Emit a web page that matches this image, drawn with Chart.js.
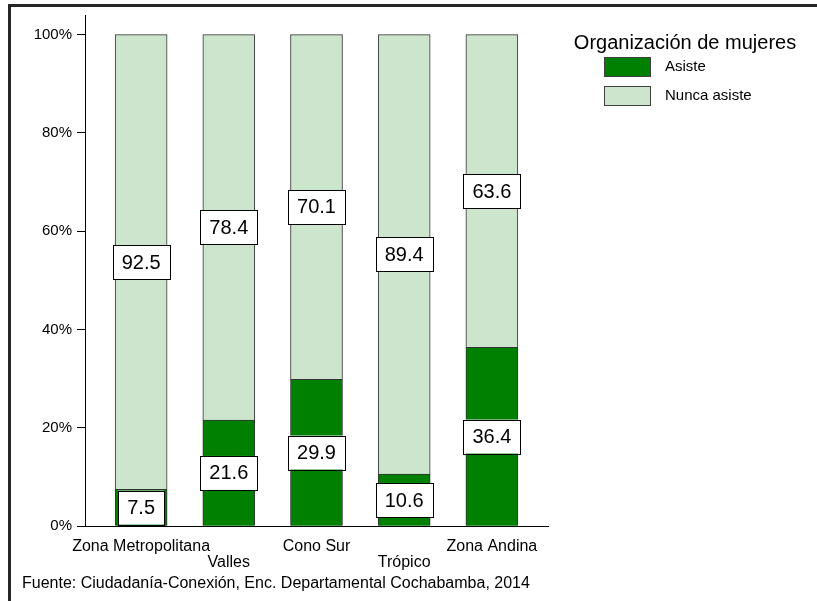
<!DOCTYPE html>
<html>
<head>
<meta charset="utf-8">
<script src="https://cdn.jsdelivr.net/npm/chart.js@4"></script>
<style>
  body { margin: 0; background: #fff; }
  #wrap { position: relative; width: 817px; height: 601px; }
  #frame { position: absolute; left: 8px; top: 4px; right: 0; bottom: 0;
           border-top: 3px solid #262626; border-left: 3px solid #262626; pointer-events: none; }
</style>
</head>
<body>
<div id="wrap">
  <canvas id="barChart" width="817" height="601"></canvas>
  <div id="frame"></div>
</div>
<script>
const categories = ['Zona Metropolitana', 'Valles', 'Cono Sur', 'Trópico', 'Zona Andina'];
const asiste = [7.5, 21.6, 29.9, 10.6, 36.4];
const nuncaAsiste = [92.5, 78.4, 70.1, 89.4, 63.6];
const seriesNames = ['Asiste', 'Nunca asiste'];
const yTicks = [0, 20, 40, 60, 80, 100];
const legendTitle = 'Organización de mujeres';
const source = 'Fuente: Ciudadanía-Conexión, Enc. Departamental Cochabamba, 2014';

Chart.defaults.font.family = '"Liberation Sans", Arial, sans-serif';
Chart.defaults.color = '#000';

// white boxes with the value in the middle of each segment
const boxLabels = {
    id: 'boxLabels',
    afterDatasetsDraw(chart) {
        const ctx = chart.ctx;
        ctx.save();
        ctx.font = '20px "Liberation Sans", Arial, sans-serif';
        ctx.textAlign = 'center';
        ctx.textBaseline = 'middle';
        chart.data.datasets.forEach((ds, di) => {
            chart.getDatasetMeta(di).data.forEach((bar, i) => {
                const txt = ds.data[i].y.toFixed(1);
                const w = ctx.measureText(txt).width + 18;
                const h = 34;
                const cy = (bar.y + bar.base) / 2;
                ctx.fillStyle = '#fff';
                ctx.fillRect(bar.x - w / 2, cy - h / 2, w, h);
                ctx.strokeStyle = '#000';
                ctx.lineWidth = 1;
                ctx.strokeRect(Math.round(bar.x - w / 2) + 0.5, Math.round(cy - h / 2) + 0.5, Math.round(w), h);
                ctx.fillStyle = '#000';
                ctx.fillText(txt, bar.x, cy + 1);
            });
        });
        ctx.restore();
    }
};

// legend on the right, with title above the swatches
const sideLegend = {
    id: 'sideLegend',
    afterDraw(chart) {
        const ctx = chart.ctx;
        const left = chart.chartArea.right;
        ctx.save();
        ctx.fillStyle = '#000';
        ctx.textBaseline = 'middle';
        ctx.textAlign = 'center';
        ctx.font = '20px "Liberation Sans", Arial, sans-serif';
        ctx.fillText(legendTitle, left + 137, 43);
        ctx.textAlign = 'left';
        ctx.font = '15px "Liberation Sans", Arial, sans-serif';
        chart.data.datasets.forEach((ds, i) => {
            const y = 57 + i * 29;
            ctx.fillStyle = ds.backgroundColor;
            ctx.fillRect(left + 56, y, 47, 20);
            ctx.strokeStyle = '#404040';
            ctx.lineWidth = 1;
            ctx.strokeRect(left + 56.5, y + 0.5, 46, 19);
            ctx.fillStyle = '#000';
            ctx.fillText(ds.label, left + 117, y + 10);
        });
        ctx.restore();
    }
};

new Chart(document.getElementById('barChart'), {
    type: 'bar',
    data: {
        datasets: [{
            label: seriesNames[0],
            data: asiste.map((v, i) => ({ x: i, y: v })),
            backgroundColor: '#008000',
            borderColor: '#333',
            borderWidth: 1,
            barThickness: 52
        }, {
            label: seriesNames[1],
            data: nuncaAsiste.map((v, i) => ({ x: i, y: v })),
            backgroundColor: '#cce5cc',
            borderColor: '#333',
            borderWidth: 1,
            barThickness: 52
        }]
    },
    options: {
        responsive: false,
        animation: false,
        layout: { padding: { left: 22, right: 269, top: 15, bottom: 8 } },
        plugins: {
            legend: { display: false },
            tooltip: { enabled: false },
            subtitle: {
                display: true,
                text: source,
                position: 'bottom',
                align: 'start',
                color: '#000',
                font: { size: 16, lineHeight: 1.2 },
                padding: { top: 0, bottom: 0 }
            }
        },
        scales: {
            x: {
                type: 'linear',
                stacked: true,
                offset: false,
                min: -0.64,
                max: 4.64,
                grid: { display: false, offset: false },
                border: { display: true, color: '#000', width: 1 },
                afterBuildTicks: scale => { scale.ticks = categories.map((c, i) => ({ value: i })); },
                afterFit: scale => { scale.height = 47.5; },
                ticks: {
                    autoSkip: false,
                    maxRotation: 0,
                    padding: 4,
                    font: { size: 16, lineHeight: 1 },
                    callback: value => value % 2 ? ['', categories[value]] : categories[value]
                }
            },
            y: {
                stacked: true,
                min: 0,
                max: 104,
                grid: { drawOnChartArea: false, drawTicks: true, tickLength: 8, color: '#000' },
                border: { display: true, color: '#000', width: 1 },
                afterBuildTicks: scale => { scale.ticks = yTicks.map(v => ({ value: v })); },
                afterFit: scale => { scale.width = 63; },
                ticks: {
                    padding: 5,
                    font: { size: 15 },
                    callback: value => value + '%'
                }
            }
        }
    },
    plugins: [boxLabels, sideLegend]
});
</script>
</body>
</html>
